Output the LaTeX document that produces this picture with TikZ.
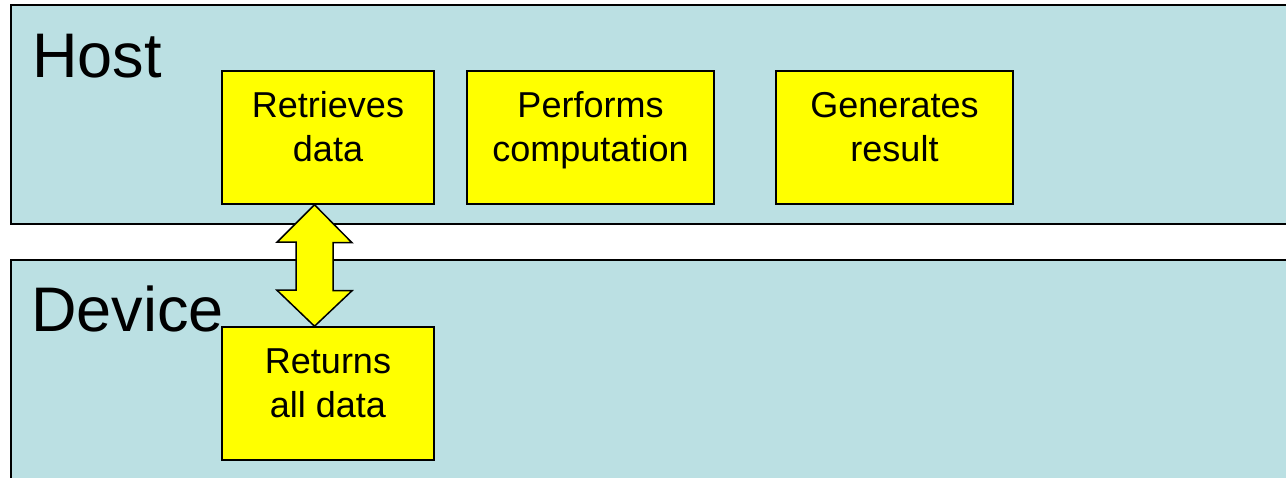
\documentclass[tikz,border=0pt]{standalone}
\usepackage{fontspec}
\setmainfont{Liberation Sans}
\definecolor{panel}{HTML}{BBE0E3}
\definecolor{boxy}{HTML}{FFFF00}
\begin{document}
\begin{tikzpicture}[x=1pt,y=-1pt,
  panelbox/.style={draw=black,fill=panel,line width=1.5pt},
  stepbox/.style={draw=black,fill=boxy,line width=1.5pt,inner sep=0pt,minimum height=133pt},
  steptext/.style={anchor=base,inner sep=0pt,align=center,
    font=\fontsize{36}{44}\selectfont},
  bigtext/.style={anchor=base west,inner sep=0pt,font=\fontsize{63}{63}\selectfont}]
\useasboundingbox (0,0) rectangle (1286,478);
\clip (0,0) rectangle (1286,478);
\draw[panelbox] (11,5) rectangle (1295,224);
\draw[panelbox] (11,260) rectangle (1295,490);
\node[bigtext] (host) at (32,78) {Host};
\node[bigtext] (device) at (31,332) {Device};
\node[stepbox,minimum width=212pt] (ret) at (328,137.5) {};
\node[stepbox,minimum width=247pt] (perf) at (590.5,137.5) {};
\node[stepbox,minimum width=237pt] (gen) at (894.5,137.5) {};
\node[stepbox,minimum width=212pt] (dev) at (328,393.5) {};
\node[steptext] (rett) at ([yshift=-24pt]ret) {Retrieves\\data};
\node[steptext] (perft) at ([yshift=-24pt]perf) {Performs\\computation};
\node[steptext] (gent) at ([yshift=-24pt]gen) {Generates\\result};
\node[steptext] (devt) at ([yshift=-24pt]dev) {Returns\\all data};
\coordinate (atop) at ([xshift=-13.5pt]ret.south);
\coordinate (abot) at ([xshift=-13.5pt]dev.north);
\draw[fill=boxy,line width=1.5pt,line join=miter]
  (atop) -- ++(37.5,38) -- ++(-19,0) -- ++(0,48) -- ++(19,0)
  -- (abot) -- ++(-37.5,-36) -- ++(19,0) -- ++(0,-48) -- ++(-19,0) -- cycle;
\end{tikzpicture}
\end{document}
